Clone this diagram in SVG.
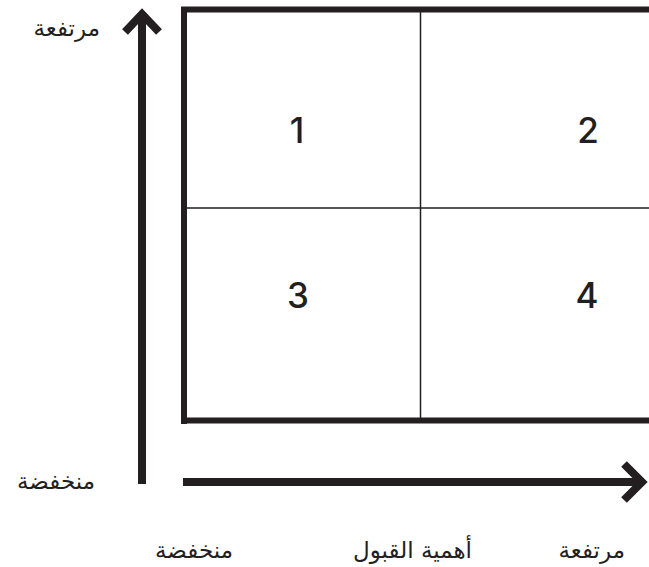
<svg xmlns="http://www.w3.org/2000/svg" width="649" height="567" viewBox="0 0 649 567">
<style>
.lbl{font-family:"DejaVu Sans","Noto Sans",sans-serif;font-size:23px;fill:#231f20}
.num{font-family:Inter,"Liberation Sans",Arial,sans-serif;font-weight:500;font-size:35px;fill:#231f20;text-anchor:middle}
.thick{stroke:#231f20;stroke-width:6;fill:none}
.thin{stroke:#231f20;stroke-width:1.5;fill:none}
.arr{stroke:#231f20;stroke-width:8;fill:none}
</style>
<rect width="649" height="567" fill="#fff"/>
<g id="grid">
<path class="thin" d="M420.5 12V418M187 208H649"/>
<path class="thick" d="M184 424V9.5H649M181 420.5H649"/>
</g>
<g id="connectors">
<path class="arr" d="M142 484V16"/>
<path class="arr" d="M125 32L142 14L159 32"/>
<path class="arr" d="M183 482H642"/>
<path class="arr" d="M624 464L642 482L624 500"/>
</g>
<g id="q1"><text class="num" x="297" y="143">1</text></g>
<g id="q2"><text class="num" x="588" y="143">2</text></g>
<g id="q3"><text class="num" x="298" y="308">3</text></g>
<g id="q4"><text class="num" x="587" y="308">4</text></g>
<g id="labels">
<text class="lbl" x="100" y="36" text-anchor="end">مرتفعة</text>
<text class="lbl" x="95" y="489" text-anchor="end">منخفضة</text>
<text class="lbl" x="233" y="558" text-anchor="end">منخفضة</text>
<text class="lbl" x="472" y="558" text-anchor="end">أهمية القبول</text>
<text class="lbl" x="625" y="558" text-anchor="end">مرتفعة</text>
</g>
</svg>
